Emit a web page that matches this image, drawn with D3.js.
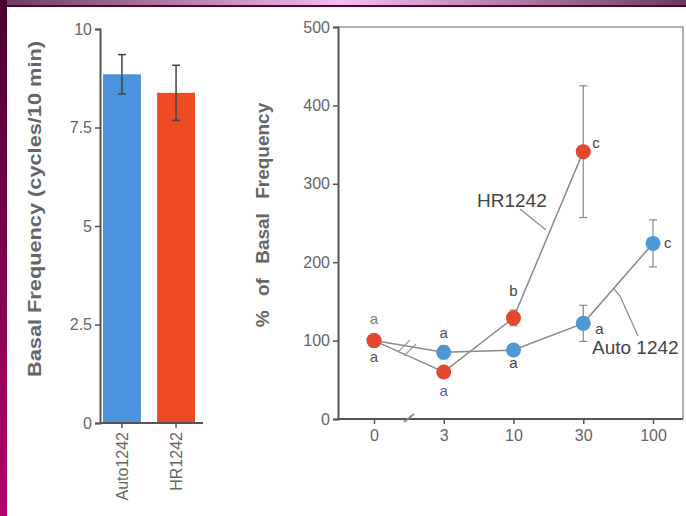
<!DOCTYPE html>
<html>
<head>
<meta charset="utf-8">
<script src="https://cdn.jsdelivr.net/npm/d3@7"></script>
<style>
  html, body { margin: 0; padding: 0; background: #fff; }
  svg { display: block; font-family: "Liberation Sans", Arial, sans-serif; }
</style>
</head>
<body>
<div id="chart"></div>
<script>
// Left panel: basal frequency per strain
const barCats = ['Auto1242', 'HR1242']
const barVals = [8.85, 8.38]
const barErr  = [0.5, 0.7]
const barTicks = [0, 2.5, 5, 7.5, 10]

// Right panel: % of basal frequency vs dose
const doses     = ['0', '3', '10', '30', '100']
const autoVals  = [100, 85, 88, 122, 224]
const autoErr   = [0, 8, 0, 23, 30]
const autoLetts = ['a', 'a', 'a', 'a', 'c']
const hrVals    = [100, 60, 129, 341]
const hrErr     = [0, 0, 10, 84]
const hrLetts   = ['a', 'a', 'b', 'c']
const pctTicks  = [0, 100, 200, 300, 400, 500]

const W = 686, H = 516
const BLUE = '#4b93dc', RED = '#ec4a22'
const DOT_BLUE = '#4f97d6', DOT_RED = '#e2472e'
const AX = '#555', TXT = '#666'

const svg = d3.select('#chart').append('svg').attr('width', W).attr('height', H)

// ---- frame (slide decoration) ----
const defs = svg.append('defs')
const gTop = defs.append('linearGradient').attr('id', 'gTop')
gTop.append('stop').attr('offset', '0%').attr('stop-color', '#6b3a5e')
gTop.append('stop').attr('offset', '50%').attr('stop-color', '#f6bdf0')
gTop.append('stop').attr('offset', '100%').attr('stop-color', '#6b3a5e')
const gLeft = defs.append('linearGradient').attr('id', 'gLeft')
  .attr('x1', 0).attr('y1', 0).attr('x2', 0).attr('y2', 1)
gLeft.append('stop').attr('offset', '0%').attr('stop-color', '#4a0030')
gLeft.append('stop').attr('offset', '100%').attr('stop-color', '#b5006c')
svg.append('rect').attr('x', 0).attr('y', 0).attr('width', W).attr('height', 6).attr('fill', 'url(#gTop)')
svg.append('rect').attr('x', 0).attr('y', 5).attr('width', W).attr('height', 2).attr('fill', '#5a0035')
svg.append('rect').attr('x', 0).attr('y', 0).attr('width', 7).attr('height', H).attr('fill', 'url(#gLeft)')

// ---- left bar chart ----
const yL = d3.scaleLinear([0, 10], [423, 29])
const xL = d3.scaleBand(barCats, [103, 195]).paddingInner(0.3)

const gL = svg.append('g')
gL.append('g').attr('transform', 'translate(100,0)')
  .call(d3.axisLeft(yL).tickValues(barTicks).tickFormat(d => d).tickSize(5).tickPadding(3))
gL.selectAll('.bar').data(barVals).join('rect')
  .attr('x', (d, i) => xL(barCats[i])).attr('width', xL.bandwidth())
  .attr('y', d => yL(d)).attr('height', d => yL(0) - yL(d))
  .attr('fill', (d, i) => i === 0 ? BLUE : RED)
// error bars
barVals.forEach((v, i) => {
  const cx = xL(barCats[i]) + xL.bandwidth() / 2
  const e = gL.append('g').attr('stroke', '#444').attr('stroke-width', 1.5)
  e.append('line').attr('x1', cx).attr('x2', cx).attr('y1', yL(v + barErr[i])).attr('y2', yL(v - barErr[i]))
  e.append('line').attr('x1', cx - 4).attr('x2', cx + 4).attr('y1', yL(v + barErr[i])).attr('y2', yL(v + barErr[i]))
  e.append('line').attr('x1', cx - 4).attr('x2', cx + 4).attr('y1', yL(v - barErr[i])).attr('y2', yL(v - barErr[i]))
})
const xAxL = gL.append('g').attr('transform', `translate(0,${yL(0)})`)
  .call(d3.axisBottom(xL).tickSize(5).tickPadding(4))
xAxL.select('.domain').attr('d', `M100,0H203`)
gL.append('text').attr('transform', 'translate(41,209) rotate(-90)')
  .attr('text-anchor', 'middle').attr('font-size', 18).attr('font-weight', 'bold')
  .attr('textLength', 336).attr('lengthAdjust', 'spacingAndGlyphs')
  .attr('fill', '#666').text('Basal Frequency (cycles/10 min)')

// ---- right line chart ----
const xR = d3.scalePoint(doses, [374, 653])
const yR = d3.scaleLinear([0, 500], [419, 27])
const gR = svg.append('g')

// box top & right
gR.append('path').attr('d', `M338,${yR(500)}H683V${yR(0)}`)
  .attr('fill', 'none').attr('stroke', '#999').attr('stroke-width', 1.5)
gR.append('g').attr('transform', 'translate(338,0)')
  .call(d3.axisLeft(yR).tickValues(pctTicks).tickSize(5).tickPadding(3))
const xAxR = gR.append('g').attr('transform', `translate(0,${yR(0)})`)
  .call(d3.axisBottom(xR).tickSize(5).tickPadding(6))
xAxR.select('.domain').attr('d', 'M338,0H683')
gR.append('text').attr('transform', 'translate(269,215) rotate(-90)')
  .attr('text-anchor', 'middle').attr('font-size', 19).attr('font-weight', 'bold')
  .attr('word-spacing', 9)
  .attr('fill', '#666').text('% of Basal Frequency')

// axis break on x-axis
gR.append('path').attr('d', `M404,${yR(0) + 3}L414,${yR(0) - 5}`)
  .attr('stroke', '#888').attr('stroke-width', 2)

const line = d3.line().x((d, i) => xR(doses[i])).y(d => yR(d))
gR.append('path').datum(autoVals).attr('d', line)
  .attr('fill', 'none').attr('stroke', '#8a8a8a').attr('stroke-width', 1.5)
gR.append('path').datum(hrVals).attr('d', line)
  .attr('fill', 'none').attr('stroke', '#8a8a8a').attr('stroke-width', 1.5)

// break marks on lines between 0 and 3
gR.append('path').attr('d', 'M398,352L410,340 M404,356L416,344')
  .attr('stroke', '#999').attr('stroke-width', 1.2).attr('fill', 'none')

function errBars(vals, errs) {
  vals.forEach((v, i) => {
    if (!errs[i]) return
    const cx = xR(doses[i])
    const e = gR.append('g').attr('stroke', '#888').attr('stroke-width', 1.2)
    e.append('line').attr('x1', cx).attr('x2', cx).attr('y1', yR(v + errs[i])).attr('y2', yR(v - errs[i]))
    e.append('line').attr('x1', cx - 4).attr('x2', cx + 4).attr('y1', yR(v + errs[i])).attr('y2', yR(v + errs[i]))
    e.append('line').attr('x1', cx - 4).attr('x2', cx + 4).attr('y1', yR(v - errs[i])).attr('y2', yR(v - errs[i]))
  })
}
errBars(autoVals, autoErr)
errBars(hrVals, hrErr)

gR.selectAll('.dotA').data(autoVals).join('circle')
  .attr('cx', (d, i) => xR(doses[i])).attr('cy', d => yR(d)).attr('r', 7.5).attr('fill', DOT_BLUE)
gR.selectAll('.dotH').data(hrVals).join('circle')
  .attr('cx', (d, i) => xR(doses[i])).attr('cy', d => yR(d)).attr('r', 7.5).attr('fill', DOT_RED)

// significance letters (offsets relative to points)
const autoOff = [[0, 16], [0, -20], [0, 13], [12, 5], [11, -1]]
const hrOff   = [[0, -22], [0, 19], [0, -27], [9, -9]]
function letters(vals, letts, offs, cols) {
  gR.selectAll(null).data(vals).join('text')
    .attr('x', (d, i) => xR(doses[i]) + offs[i][0])
    .attr('y', (d, i) => yR(d) + offs[i][1])
    .attr('text-anchor', (d, i) => offs[i][0] ? 'start' : 'middle')
    .attr('dy', '0.35em').attr('font-size', 15).attr('fill', (d, i) => cols[i])
    .text((d, i) => letts[i])
}
letters(autoVals, autoLetts, autoOff, ['#555', '#555', '#444', '#444', '#444'])
letters(hrVals, hrLetts, hrOff, ['#6a8a6a', '#5a62a8', '#444', '#444'])

// series labels with leader lines
gR.append('text').attr('x', 477).attr('y', 207).attr('font-size', 19).attr('fill', '#444').text('HR1242')
gR.append('path').attr('d', 'M520,209L546,230').attr('stroke', '#888').attr('stroke-width', 1.2).attr('fill', 'none')
gR.append('text').attr('x', 592).attr('y', 354).attr('font-size', 19).attr('fill', '#444').text('Auto 1242')
gR.append('path').attr('d', 'M638,336L620,296L614,289').attr('stroke', '#888').attr('stroke-width', 1.2).attr('fill', 'none')

// axis styling
svg.selectAll('.domain').attr('stroke', AX).attr('stroke-width', 2)
svg.selectAll('.tick line').attr('stroke', AX).attr('stroke-width', 1.5)
svg.selectAll('.tick text').attr('fill', TXT).attr('font-size', 16)
  .attr('font-family', '"Liberation Sans", Arial, sans-serif')
xAxL.selectAll('.tick text').attr('transform', 'rotate(-90)').attr('text-anchor', 'end')
  .attr('x', -9).attr('y', 0).attr('dy', '0.35em')
</script>
</body>
</html>
